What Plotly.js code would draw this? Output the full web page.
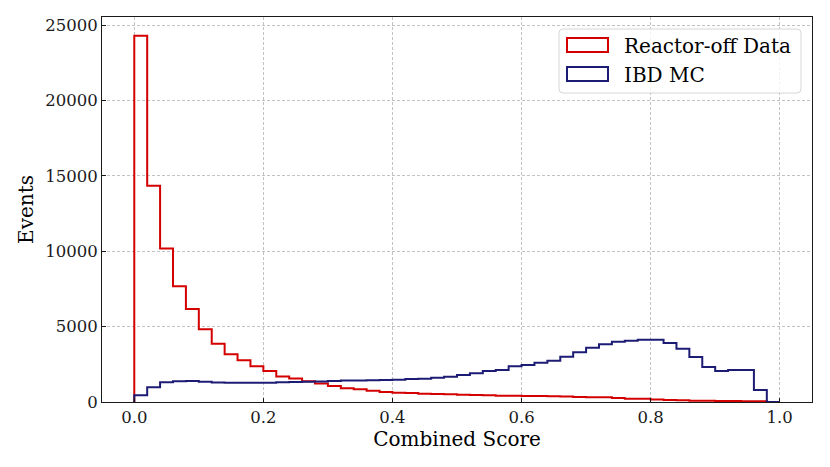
<!DOCTYPE html>
<html>
<head>
<meta charset="utf-8">
<script src="https://cdn.plot.ly/plotly-3.0.1.min.js"></script>
<style>html,body{margin:0;padding:0;background:#fff;}#chart{width:830px;height:467px;}</style>
</head>
<body>
<div id="chart"></div>
<script>
// Bin edges (Combined Score), 50 bins of width 0.02
const binEdges = [0.00,0.02,0.04,0.06,0.08,0.10,0.12,0.14,0.16,0.18,
  0.20,0.22,0.24,0.26,0.28,0.30,0.32,0.34,0.36,0.38,
  0.40,0.42,0.44,0.46,0.48,0.50,0.52,0.54,0.56,0.58,
  0.60,0.62,0.64,0.66,0.68,0.70,0.72,0.74,0.76,0.78,
  0.80,0.82,0.84,0.86,0.88,0.90,0.92,0.94,0.96,0.98,1.00];

// Reactor-off Data counts per bin
const reactorOff = [24300,14350,10180,7680,6175,4825,3870,3165,2767,2370,
  2060,1700,1560,1380,1220,1062,907,841,752,664,
  620,598,553,531,509,480,460,450,420,420,
  400,390,380,370,330,320,310,270,220,210,
  170,130,110,90,85,65,60,55,50,0];

// IBD MC counts per bin
const ibdMC = [443,974,1306,1370,1390,1350,1290,1280,1280,1283,
  1283,1305,1320,1340,1360,1390,1420,1430,1440,1460,
  1483,1527,1549,1615,1682,1793,1903,2058,2130,2380,
  2460,2612,2744,3010,3297,3608,3829,4006,4072,4138,
  4138,3918,3541,2988,2324,2058,2125,2125,797,0];

const seriesNames = ['Reactor-off Data', 'IBD MC'];
const seriesColors = ['#d40000', '#1c1c74'];
const xTickVals = [0, 0.2, 0.4, 0.6, 0.8, 1.0];
const yTickVals = [0, 5000, 10000, 15000, 20000, 25000];

function stepXY(counts) {
  // Outline of a step histogram: start at baseline, follow each bin, return to baseline
  const x = [binEdges[0]];
  const y = [0];
  for (let i = 0; i < counts.length; i++) { x.push(binEdges[i]); y.push(counts[i]); }
  x.push(binEdges[binEdges.length - 1]); y.push(0);
  return {x, y};
}

const FONT = 'DejaVu Serif, Liberation Serif, serif';
const traces = [reactorOff, ibdMC].map((c, i) => {
  const s = stepXY(c);
  return {
    type: 'scatter', mode: 'lines', x: s.x, y: s.y,
    name: seriesNames[i], showlegend: false,
    line: {shape: 'hv', color: seriesColors[i], width: 2},
    hoverinfo: 'skip'
  };
});

// Plot area geometry (pixels) for the custom matplotlib-like legend
const L = 102, R = 18, T = 17, B = 65, W = 830, H = 467;
const pw = W - L - R, ph = H - T - B;
const px = v => (v - L) / pw;
const py = v => (H - B - v) / ph;

function roundRectPath(x0, y0, x1, y1, r) {
  const rx = r / pw, ry = r / ph;
  const X0 = px(x0), X1 = px(x1), Y0 = py(y0), Y1 = py(y1); // Y0 top (higher), Y1 bottom
  return `M${X0 + rx},${Y0} L${X1 - rx},${Y0} Q${X1},${Y0} ${X1},${Y0 - ry} ` +
         `L${X1},${Y1 + ry} Q${X1},${Y1} ${X1 - rx},${Y1} L${X0 + rx},${Y1} ` +
         `Q${X0},${Y1} ${X0},${Y1 + ry} L${X0},${Y0 - ry} Q${X0},${Y0} ${X0 + rx},${Y0} Z`;
}

const shapes = [
  {type: 'path', xref: 'paper', yref: 'paper', path: roundRectPath(559, 29, 801, 93, 4),
   fillcolor: 'rgba(255,255,255,0.8)', line: {color: '#d6d6d6', width: 1}, layer: 'above'},
  {type: 'rect', xref: 'paper', yref: 'paper', x0: px(567), x1: px(608), y0: py(38), y1: py(52),
   fillcolor: 'rgba(0,0,0,0)', line: {color: seriesColors[0], width: 2}, layer: 'above'},
  {type: 'rect', xref: 'paper', yref: 'paper', x0: px(567), x1: px(608), y0: py(67), y1: py(81),
   fillcolor: 'rgba(0,0,0,0)', line: {color: seriesColors[1], width: 2}, layer: 'above'}
];
const annotations = [
  {xref: 'paper', yref: 'paper', x: px(622), y: py(46), xanchor: 'left', yanchor: 'middle',
   text: seriesNames[0], showarrow: false, font: {family: FONT, size: 20, color: '#000'}},
  {xref: 'paper', yref: 'paper', x: px(622), y: py(75), xanchor: 'left', yanchor: 'middle',
   text: seriesNames[1], showarrow: false, font: {family: FONT, size: 20, color: '#000'}}
];

const axisCommon = {
  showline: true, mirror: true, linecolor: '#1a1a1a', linewidth: 1,
  ticks: 'inside', ticklen: 4, tickwidth: 1, tickcolor: '#1a1a1a',
  showgrid: true, gridcolor: '#b3b3b3', gridwidth: 0.8, griddash: '3px,2px',
  zeroline: false, tickfont: {family: FONT, size: 16.5, color: '#1a1a1a'},
  automargin: false
};

const layout = {
  width: W, height: H,
  margin: {l: L, r: R, t: T, b: B, pad: 0},
  paper_bgcolor: '#fff', plot_bgcolor: '#fff',
  showlegend: false,
  font: {family: FONT, color: '#000'},
  xaxis: Object.assign({}, axisCommon, {
    range: [-0.05, 1.05], tickvals: xTickVals, ticktext: xTickVals.map(v => v.toFixed(1)),
    title: {text: 'Combined Score', font: {family: FONT, size: 20, color: '#000'}, standoff: 6}
  }),
  yaxis: Object.assign({}, axisCommon, {
    range: [0, 25550], tickvals: yTickVals, ticktext: yTickVals.map(v => String(v)),
    title: {text: 'Events', font: {family: FONT, size: 20, color: '#000'}, standoff: 6}
  }),
  shapes, annotations
};

Plotly.newPlot('chart', traces, layout, {staticPlot: true, displayModeBar: false});
</script>
</body>
</html>
